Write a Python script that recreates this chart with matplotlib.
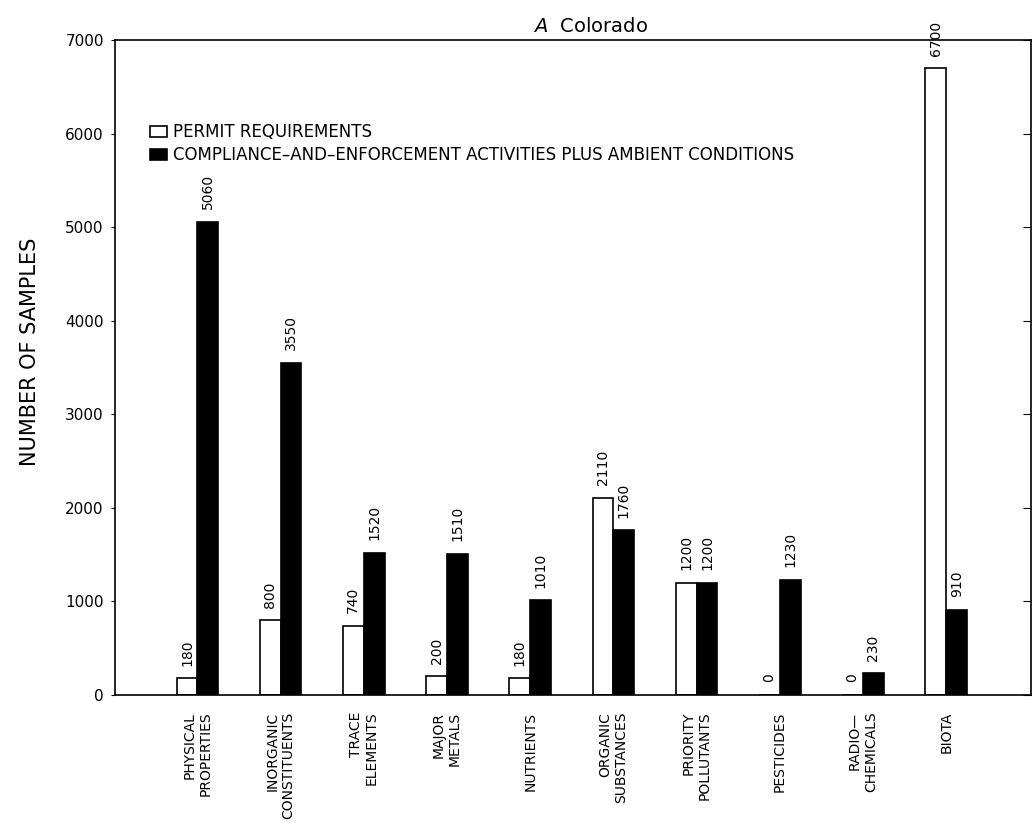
import matplotlib
matplotlib.use("Agg")
import matplotlib.pyplot as plt
import numpy as np

# sample counts by constituent group, Colorado
categories = [
    "PHYSICAL\nPROPERTIES", "INORGANIC\nCONSTITUENTS", "TRACE\nELEMENTS",
    "MAJOR\nMETALS", "NUTRIENTS", "ORGANIC\nSUBSTANCES", "PRIORITY\nPOLLUTANTS",
    "PESTICIDES", "RADIO\u2014\nCHEMICALS", "BIOTA",
]
permit = [180, 800, 740, 200, 180, 2110, 1200, 0, 0, 6700]
compliance = [5060, 3550, 1520, 1510, 1010, 1760, 1200, 1230, 230, 910]
yticks = [0, 1000, 2000, 3000, 4000, 5000, 6000, 7000]

fig = plt.figure(figsize=(10.34, 8.3), dpi=100)
ax = fig.add_axes([0.1112, 0.1627, 0.886, 0.789])

x = np.arange(len(categories))
w = 0.25
b1 = ax.bar(x - w / 2, permit, w, color="white", edgecolor="black", linewidth=1.2,
            label="PERMIT REQUIREMENTS")
b2 = ax.bar(x + w / 2, compliance, w, color="black", edgecolor="black", linewidth=1.2,
            label="COMPLIANCE\u2013AND\u2013ENFORCEMENT ACTIVITIES PLUS AMBIENT CONDITIONS")

# value labels above each bar, turned on end
for bars, vals in [(b1, permit), (b2, compliance)]:
    for rect, v in zip(bars, vals):
        ax.annotate(str(v), (rect.get_x() + rect.get_width() / 2, v),
                    xytext=(0, 9), textcoords="offset points",
                    rotation=90, ha="center", va="bottom", fontsize=10)

ax.set_xlim(-0.99, 10.02)
ax.set_ylim(0, 7000)
ax.set_yticks(yticks)
ax.set_yticklabels([str(t) for t in yticks], fontsize=11)
ax.tick_params(axis="y", direction="out", length=3, right=True, pad=5)
ax.set_xticks(x)
ax.set_xticklabels(categories, rotation=90, fontsize=10, va="top", ha="center",
                   multialignment="right")
ax.tick_params(axis="x", length=0, pad=12)
# right-hand ticks point inward
for t in ax.yaxis.get_major_ticks():
    t.tick2line.set_marker(matplotlib.lines.TICKLEFT)
    t.tick2line.set_markersize(6)
for s in ax.spines.values():
    s.set_linewidth(1.2)

ax.set_ylabel("NUMBER OF SAMPLES", fontsize=15)
ax.yaxis.set_label_coords(-0.082, 0.524)
ax.set_title(r"$\mathit{A}$  Colorado", fontsize=14, pad=6, x=0.519)

ax.legend(loc="upper left", bbox_to_anchor=(0.031, 0.883), frameon=False,
          fontsize=12, handlelength=1.0, handleheight=0.7, handletextpad=0.35,
          labelspacing=0.3, borderaxespad=0)

fig.savefig("out.png", dpi=100)
